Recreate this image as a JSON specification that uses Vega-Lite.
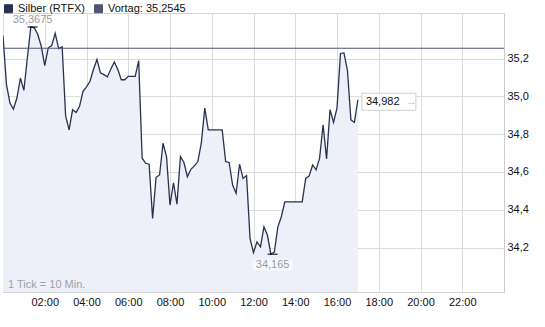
{
  "$schema": "https://vega.github.io/schema/vega-lite/v6.json",
  "width": 501,
  "height": 279,
  "autosize": {"type": "none"},
  "padding": {"left": 3, "top": 13, "right": 41, "bottom": 35},
  "background": "white",
  "config": {
    "view": {"stroke": "#d4d4d4"},
    "font": "Liberation Sans",
    "axis": {"ticks": false, "grid": true, "gridColor": "#dcdcdc", "labelFontSize": 11, "labelColor": "#111"},
    "axisX": {"domain": false, "labelPadding": 4, "labelOverlap": false, "labelFlush": false},
    "axisY": {"domain": true, "domainColor": "#cccccc", "labelPadding": 3}
  },
  "datasets": {
    "series": [
      {"m": 0, "v": 35.322}, {"m": 10, "v": 35.062}, {"m": 20, "v": 34.965}, {"m": 30, "v": 34.933},
      {"m": 40, "v": 34.991}, {"m": 50, "v": 35.097}, {"m": 60, "v": 35.032}, {"m": 70, "v": 35.204},
      {"m": 80, "v": 35.3675}, {"m": 90, "v": 35.363}, {"m": 100, "v": 35.327}, {"m": 110, "v": 35.265},
      {"m": 120, "v": 35.163}, {"m": 130, "v": 35.257}, {"m": 140, "v": 35.269}, {"m": 150, "v": 35.333},
      {"m": 160, "v": 35.253}, {"m": 170, "v": 35.262}, {"m": 180, "v": 34.897}, {"m": 190, "v": 34.823},
      {"m": 200, "v": 34.929}, {"m": 210, "v": 34.915}, {"m": 220, "v": 34.947}, {"m": 230, "v": 35.027},
      {"m": 240, "v": 35.05}, {"m": 250, "v": 35.08}, {"m": 260, "v": 35.142}, {"m": 270, "v": 35.195},
      {"m": 280, "v": 35.124}, {"m": 290, "v": 35.115}, {"m": 300, "v": 35.103}, {"m": 310, "v": 35.145},
      {"m": 320, "v": 35.182}, {"m": 330, "v": 35.142}, {"m": 340, "v": 35.088}, {"m": 350, "v": 35.088},
      {"m": 360, "v": 35.106}, {"m": 370, "v": 35.106}, {"m": 380, "v": 35.106}, {"m": 390, "v": 35.189},
      {"m": 400, "v": 34.673}, {"m": 410, "v": 34.646}, {"m": 420, "v": 34.641}, {"m": 430, "v": 34.354},
      {"m": 440, "v": 34.572}, {"m": 450, "v": 34.584}, {"m": 460, "v": 34.752}, {"m": 470, "v": 34.681},
      {"m": 480, "v": 34.425}, {"m": 490, "v": 34.543}, {"m": 500, "v": 34.43}, {"m": 510, "v": 34.681},
      {"m": 520, "v": 34.65}, {"m": 530, "v": 34.575}, {"m": 540, "v": 34.614}, {"m": 550, "v": 34.632},
      {"m": 560, "v": 34.655}, {"m": 570, "v": 34.752}, {"m": 580, "v": 34.938}, {"m": 590, "v": 34.823},
      {"m": 600, "v": 34.823}, {"m": 610, "v": 34.823}, {"m": 620, "v": 34.823}, {"m": 630, "v": 34.823},
      {"m": 640, "v": 34.655}, {"m": 650, "v": 34.65}, {"m": 660, "v": 34.531}, {"m": 670, "v": 34.487},
      {"m": 680, "v": 34.641}, {"m": 690, "v": 34.566}, {"m": 700, "v": 34.581}, {"m": 710, "v": 34.248},
      {"m": 720, "v": 34.173}, {"m": 730, "v": 34.23}, {"m": 740, "v": 34.204}, {"m": 750, "v": 34.31},
      {"m": 760, "v": 34.265}, {"m": 770, "v": 34.165}, {"m": 780, "v": 34.177}, {"m": 790, "v": 34.31},
      {"m": 800, "v": 34.363}, {"m": 810, "v": 34.442}, {"m": 820, "v": 34.442}, {"m": 830, "v": 34.442},
      {"m": 840, "v": 34.442}, {"m": 850, "v": 34.442}, {"m": 860, "v": 34.442}, {"m": 870, "v": 34.566},
      {"m": 880, "v": 34.579}, {"m": 890, "v": 34.637}, {"m": 900, "v": 34.611}, {"m": 910, "v": 34.673},
      {"m": 920, "v": 34.85}, {"m": 930, "v": 34.669}, {"m": 940, "v": 34.929}, {"m": 950, "v": 34.862},
      {"m": 960, "v": 34.938}, {"m": 970, "v": 35.227}, {"m": 980, "v": 35.23}, {"m": 990, "v": 35.138},
      {"m": 1000, "v": 34.876}, {"m": 1010, "v": 34.862}, {"m": 1020, "v": 34.982}
    ],
    "vortag": [{"v": 35.2545}],
    "maxpt": [{"m": 85, "v": 35.3675, "label": "35,3675"}],
    "minpt": [{"m": 775, "v": 34.165, "label": "34,165"}],
    "lastpt": [{"m": 1020, "v": 34.982, "label": "34,982"}],
    "note": [{"m": 0, "v": 34.0, "label": "1 Tick = 10 Min."}]
  },
  "layer": [
    {
      "data": {"name": "series"},
      "mark": {"type": "area", "color": "#edf0f9", "clip": true},
      "encoding": {
        "x": {
          "field": "m", "type": "quantitative", "title": null,
          "scale": {"domain": [0, 1440], "nice": false, "zero": false},
          "axis": {
            "values": [0, 60, 120, 180, 240, 300, 360, 420, 480, 540, 600, 660, 720, 780, 840, 900, 960, 1020, 1080, 1140, 1200, 1260, 1320, 1380, 1440],
            "labelExpr": "(datum.value % 120 == 0 && datum.value > 0 && datum.value < 1440) ? ((datum.value < 600 ? '0' : '') + (datum.value / 60) + ':00') : ''"
          }
        },
        "y": {
          "field": "v", "type": "quantitative", "title": null,
          "scale": {"domain": [33.965, 35.441], "nice": false, "zero": false},
          "axis": {
            "orient": "right",
            "values": [34.2, 34.4, 34.6, 34.8, 35.0, 35.2],
            "labelExpr": "replace(format(datum.value, '.1f'), '.', ',')"
          }
        },
        "y2": {"datum": 33.965}
      }
    },
    {
      "data": {"name": "series"},
      "mark": {"type": "line", "strokeWidth": 1.3, "clip": true},
      "encoding": {
        "x": {"field": "m", "type": "quantitative", "title": null},
        "y": {"field": "v", "type": "quantitative", "title": null},
        "color": {
          "datum": "Silber (RTFX)",
          "scale": {"domain": ["Silber (RTFX)", "Vortag: 35,2545"], "range": ["#28314f", "#4f5675"]},
          "legend": {
            "title": null, "orient": "none", "legendX": 0, "legendY": -10,
            "direction": "horizontal", "padding": 0,
            "symbolType": "square", "symbolSize": 64,
            "labelFontSize": 11, "labelColor": "#111", "labelOffset": 4, "columnPadding": 6,
            "encode": {
              "symbols": {
                "update": {
                  "fill": {"scale": "color", "field": "value"},
                  "stroke": {"value": "#222"},
                  "strokeWidth": {"value": 1},
                  "opacity": {"value": 1}
                }
              }
            }
          }
        }
      }
    },
    {
      "data": {"name": "vortag"},
      "mark": {"type": "rule", "strokeWidth": 1},
      "encoding": {
        "y": {"field": "v", "type": "quantitative", "title": null},
        "color": {"datum": "Vortag: 35,2545"}
      }
    },
    {
      "data": {"name": "lastpt"},
      "mark": {"type": "point", "shape": "M-1,-0.315L1,-0.315L1,0.315L-1,0.315Z", "size": 2916, "filled": true, "fill": "white", "stroke": "#cfcfcf", "strokeWidth": 1, "opacity": 1, "xOffset": 31, "yOffset": 2},
      "encoding": {
        "x": {"field": "m", "type": "quantitative", "title": null},
        "y": {"field": "v", "type": "quantitative", "title": null}
      }
    },
    {
      "data": {"name": "lastpt"},
      "mark": {"type": "text", "align": "left", "baseline": "middle", "dx": 8, "dy": 2, "fontSize": 11, "color": "#111"},
      "encoding": {
        "x": {"field": "m", "type": "quantitative", "title": null},
        "y": {"field": "v", "type": "quantitative", "title": null},
        "text": {"field": "label"}
      }
    },
    {
      "data": {"name": "lastpt"},
      "mark": {"type": "text", "align": "left", "baseline": "middle", "dx": 48, "dy": 2, "fontSize": 11, "fontWeight": "bold", "color": "#c4c4c4", "text": "→"},
      "encoding": {
        "x": {"field": "m", "type": "quantitative", "title": null},
        "y": {"field": "v", "type": "quantitative", "title": null}
      }
    },
    {
      "data": {"name": "minpt"},
      "mark": {"type": "point", "shape": "M-1,-0.28L1,-0.28L1,0.28L-1,0.28Z", "size": 1600, "filled": true, "fill": "#f7f8fc", "strokeWidth": 0, "opacity": 1, "yOffset": 11},
      "encoding": {
        "x": {"field": "m", "type": "quantitative", "title": null},
        "y": {"field": "v", "type": "quantitative", "title": null}
      }
    },
    {
      "data": {"name": "minpt"},
      "mark": {"type": "text", "align": "center", "baseline": "middle", "dy": 11, "fontSize": 11, "color": "#9a9a9a"},
      "encoding": {
        "x": {"field": "m", "type": "quantitative", "title": null},
        "y": {"field": "v", "type": "quantitative", "title": null},
        "text": {"field": "label"}
      }
    },
    {
      "data": {"name": "maxpt"},
      "mark": {"type": "text", "align": "center", "baseline": "bottom", "dy": -2, "fontSize": 11, "color": "#9a9a9a"},
      "encoding": {
        "x": {"field": "m", "type": "quantitative", "title": null},
        "y": {"field": "v", "type": "quantitative", "title": null},
        "text": {"field": "label"}
      }
    },
    {
      "data": {"name": "maxpt"},
      "mark": {"type": "tick", "orient": "horizontal", "size": 10, "thickness": 1.5, "color": "#000"},
      "encoding": {
        "x": {"field": "m", "type": "quantitative", "title": null},
        "y": {"field": "v", "type": "quantitative", "title": null}
      }
    },
    {
      "data": {"name": "minpt"},
      "mark": {"type": "tick", "orient": "horizontal", "size": 10, "thickness": 1.5, "color": "#000"},
      "encoding": {
        "x": {"field": "m", "type": "quantitative", "title": null},
        "y": {"field": "v", "type": "quantitative", "title": null}
      }
    },
    {
      "data": {"name": "note"},
      "mark": {"type": "text", "align": "left", "baseline": "middle", "dx": 5, "fontSize": 11, "color": "#a0a0a0"},
      "encoding": {
        "x": {"field": "m", "type": "quantitative", "title": null},
        "y": {"field": "v", "type": "quantitative", "title": null},
        "text": {"field": "label"}
      }
    }
  ]
}
